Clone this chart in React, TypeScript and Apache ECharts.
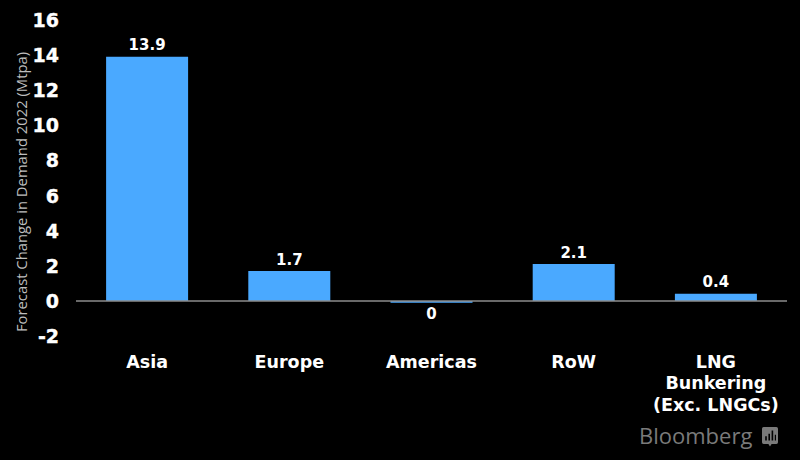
import React, { useEffect, useRef } from "react";
import * as echarts from "echarts";

const categories = ["Asia", "Europe", "Americas", "RoW", "LNG\nBunkering\n(Exc. LNGCs)"];
const demandChange = [13.9, 1.7, -0.1, 2.1, 0.4];
const valueLabels = ["13.9", "1.7", "0", "2.1", "0.4"];
const axisTitle = "Forecast Change in Demand 2022 (Mtpa)";
const sourceName = "Bloomberg";

const LOGO =
  "M2 0H18Q20 0 20 2V18Q20 20 18 20H12L10 23L8 20H2Q0 20 0 18V2Q0 0 2 0ZM4 11V16H6V11ZM8 8V16H10V8ZM12 4V16H14V4ZM16 9V16H17.5V9Z";
echarts.graphic.registerShape("bbgLogo", (echarts.graphic as any).extendPath(LOGO, {}));

export default function App() {
  const ref = useRef<HTMLDivElement>(null);
  useEffect(() => {
    document.body.style.margin = "0";
    document.body.style.background = "#000";
    const chart = echarts.init(ref.current!, undefined, { renderer: "svg" });
    chart.setOption({
      animation: false,
      backgroundColor: "#000000",
      grid: { left: 76, right: 13, top: 20, bottom: 124, containLabel: false, outerBoundsMode: "none" },
      xAxis: {
        type: "category",
        data: categories,
        axisLine: { show: false, onZero: false },
        axisTick: { show: false },
        axisLabel: {
          color: "#ffffff",
          fontFamily: "DejaVu Sans",
          fontWeight: "bold",
          fontSize: 17.5,
          lineHeight: 21.5,
          margin: 15,
          interval: 0,
          verticalAlign: "top",
        },
      },
      yAxis: {
        type: "value",
        min: -2,
        max: 16,
        interval: 2,
        name: axisTitle,
        nameLocation: "middle",
        nameRotate: 90,
        nameGap: 48,
        nameMoveOverlap: false,
        nameTextStyle: {
          color: "#bdbdbd",
          fontFamily: "Open Sans",
          fontSize: 14.8,
          padding: [0, 28, 0, 0],
        },
        splitLine: { show: false },
        axisLine: { show: false },
        axisTick: { show: false },
        axisLabel: {
          color: "#ffffff",
          fontFamily: "DejaVu Sans",
          fontWeight: "bold",
          fontSize: 19,
          margin: 17,
          textBorderColor: "#ffffff",
          textBorderWidth: 0.4,
        },
      },
      series: [
        {
          type: "bar",
          data: demandChange,
          barWidth: 82,
          itemStyle: { color: "#4aa9ff" },
          label: {
            show: true,
            position: "outside",
            distance: 4,
            color: "#ffffff",
            fontFamily: "DejaVu Sans",
            fontWeight: "bold",
            fontSize: 15,
            formatter: (p: any) => valueLabels[p.dataIndex],
          },
          markLine: {
            silent: true,
            symbol: "none",
            label: { show: false },
            lineStyle: { color: "#8c8c8c", width: 1.5, type: "solid" },
            data: [{ yAxis: 0 }],
          },
        },
      ],
      graphic: [
        {
          type: "text",
          left: 639,
          top: 424,
          style: {
            text: sourceName,
            fill: "#7a7a7a",
            font: "22px 'Open Sans'",
          },
        },
        {
          type: "bbgLogo",
          x: 762,
          y: 427,
          scaleX: 0.8,
          scaleY: 0.85,
          style: { fill: "#7a7a7a" },
        },
      ],
    });
    return () => chart.dispose();
  }, []);
  return <div ref={ref} style={{ width: 800, height: 460 }} />;
}
